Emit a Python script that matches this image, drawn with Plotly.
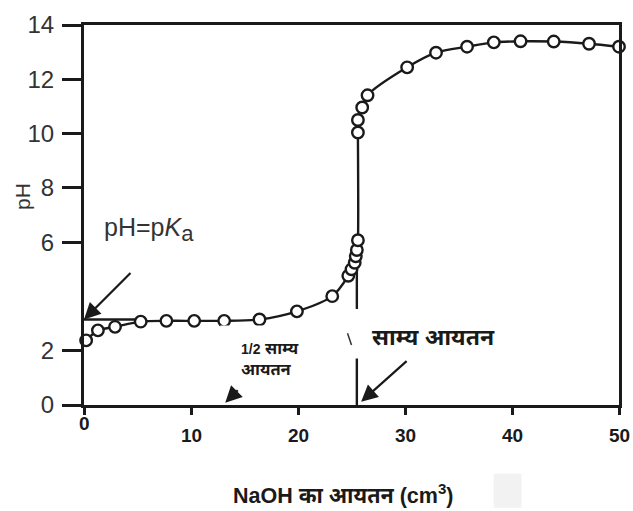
import plotly.graph_objects as go

# ---- data ----
volume = [0.2, 1.3, 2.9, 5.3, 7.7, 10.3, 13.1, 16.4, 19.9, 23.2, 24.7, 25.0, 25.3, 25.4,
          25.5, 25.6, 25.6, 25.6, 26.0, 26.5, 30.2, 32.9, 35.8, 38.3, 40.8, 43.9, 47.2, 50.0]
ph = [2.38, 2.75, 2.88, 3.07, 3.10, 3.10, 3.10, 3.15, 3.45, 4.01, 4.76, 5.00, 5.24, 5.48,
      5.71, 6.07, 10.04, 10.50, 10.96, 11.41, 12.44, 12.98, 13.20, 13.36, 13.40, 13.39, 13.31, 13.20]
pka_value = 3.15
pka_line_end = 5.3
equiv_volume = 25.5
equiv_top_ph = 6.07
half_arrow_volume = 13.2
equiv_arrow_volume = 25.9
x_ticks = [0, 10, 20, 30, 40, 50]
x_tick_text = ["0", "10", "20", "30", "40", "50"]
y_ticks = [0, 2, 6, 8, 10, 12, 14]
y_tick_text = ["0", "2", "6", "8", "10", "12", "14"]

W, H = 633, 511
L, R, T, B = 84, 11, 13, 106
PW, PH = W - L - R, H - T - B


def xp(px):
    return (px - L) / PW


def yp(py):
    return (H - B - py) / PH


FONT = "Liberation Sans, Arial, Noto Sans Devanagari, Lohit Devanagari, FreeSans, sans-serif"
INK = "#1a1a1a"

fig = go.Figure()

# pKa horizontal line
fig.add_trace(go.Scatter(x=[0, pka_line_end], y=[pka_value, pka_value], mode="lines",
                         line=dict(color=INK, width=2.4), hoverinfo="skip", showlegend=False,
                         cliponaxis=False))
# equivalence vertical line
fig.add_trace(go.Scatter(x=[equiv_volume, equiv_volume], y=[0, equiv_top_ph], mode="lines",
                         line=dict(color=INK, width=2.4), hoverinfo="skip", showlegend=False,
                         cliponaxis=False))
# titration curve
fig.add_trace(go.Scatter(x=volume, y=ph, mode="lines",
                         line=dict(color=INK, width=2.4, shape="spline", smoothing=0.8),
                         hoverinfo="skip", showlegend=False, cliponaxis=False))
fig.add_trace(go.Scatter(x=volume, y=ph, mode="markers",
                         marker=dict(symbol="circle", size=11.5, color="white",
                                     line=dict(color=INK, width=2.4)),
                         showlegend=False, cliponaxis=False))

shapes = [
    # white label boxes covering parts of the drawing
    dict(type="rect", xref="paper", yref="paper", x0=xp(221), x1=xp(346), y0=yp(388), y1=yp(323),
         fillcolor="white", line=dict(width=0), layer="above"),
    dict(type="rect", xref="paper", yref="paper", x0=xp(355), x1=xp(520), y0=yp(357), y1=yp(306),
         fillcolor="white", line=dict(width=0), layer="above"),
    # small stroke remnant
    dict(type="line", xref="paper", yref="paper", x0=xp(349), x1=xp(353), y0=yp(331), y1=yp(343),
         line=dict(color="#333", width=1.5), layer="above"),
    # faint grey scan artefact
    dict(type="rect", xref="paper", yref="paper", x0=xp(496), x1=xp(524), y0=yp(511), y1=yp(476),
         fillcolor="#f2f2f2", line=dict(width=0), layer="below"),
]

annotations = []
# x tick labels (staggered "0" as in the reference)
for v, t in zip(x_ticks, x_tick_text):
    annotations.append(dict(x=v, y=0, xref="x", yref="paper", text=f"<b>{t}</b>",
                            showarrow=False, xanchor="center", yanchor="middle",
                            yshift=-18 if v == 0 else -30,
                            font=dict(family=FONT, size=19, color=INK)))
# arrows
annotations.append(dict(x=0, y=pka_value, xref="x", yref="y", text="", showarrow=True,
                        ax=48, ay=-48, arrowhead=2, arrowsize=1.5, arrowwidth=2.2,
                        arrowcolor=INK, standoff=0))
annotations.append(dict(x=half_arrow_volume, y=0.08, xref="x", yref="y", text="", showarrow=True,
                        ax=14, ay=-14, arrowhead=2, arrowsize=1.5, arrowwidth=2.2,
                        arrowcolor=INK, standoff=0))
annotations.append(dict(x=equiv_arrow_volume, y=0.12, xref="x", yref="y", text="", showarrow=True,
                        ax=47, ay=-42, arrowhead=2, arrowsize=1.5, arrowwidth=2.2,
                        arrowcolor=INK, standoff=0))
# text labels
annotations.append(dict(x=xp(102), y=yp(224), xref="paper", yref="paper",
                        text="pH=p<i>K</i><sub><span style='font-size:22px'>a</span></sub>",
                        showarrow=False, xanchor="left", yanchor="middle",
                        font=dict(family=FONT, size=25, color="#333")))
annotations.append(dict(x=xp(240), y=yp(357), xref="paper", yref="paper",
                        text="<b><span style='font-size:14px'>1/2</span> साम्य<br>आयतन</b>",
                        showarrow=False, xanchor="left", yanchor="middle", align="left",
                        font=dict(family=FONT, size=16.5, color=INK)))
annotations.append(dict(x=xp(372), y=yp(335), xref="paper", yref="paper",
                        text="<b>साम्य आयतन</b>", showarrow=False,
                        xanchor="left", yanchor="middle",
                        font=dict(family=FONT, size=23, color=INK)))
annotations.append(dict(x=xp(344), y=yp(497), xref="paper", yref="paper",
                        text="<b>NaOH का आयतन (cm<sup>3</sup>)</b>", showarrow=False,
                        xanchor="center", yanchor="middle",
                        font=dict(family=FONT, size=21.5, color=INK)))
annotations.append(dict(x=xp(22), y=yp(190), xref="paper", yref="paper",
                        text="pH", textangle=-90, showarrow=False,
                        xanchor="center", yanchor="middle",
                        font=dict(family=FONT, size=21, color="#333")))

fig.update_layout(
    width=W, height=H, autosize=False,
    margin=dict(l=L, r=R, t=T, b=B, pad=0),
    paper_bgcolor="white", plot_bgcolor="white",
    showlegend=False,
    shapes=shapes, annotations=annotations,
    xaxis=dict(range=[0, 50], tickvals=x_ticks, ticktext=x_tick_text, showticklabels=False,
               ticks="outside", ticklen=7, tickwidth=2.5, tickcolor=INK,
               showline=True, linecolor=INK, linewidth=3, mirror=True,
               showgrid=False, zeroline=False, fixedrange=True),
    yaxis=dict(range=[0, 14], tickvals=y_ticks, ticktext=y_tick_text,
               ticks="outside", ticklen=19, tickwidth=2.5, tickcolor=INK,
               tickfont=dict(family=FONT, size=24, color="#333"), ticklabelstandoff=3,
               showline=True, linecolor=INK, linewidth=3, mirror=True,
               showgrid=False, zeroline=False, fixedrange=True),
)

fig.write_html("out.html")
